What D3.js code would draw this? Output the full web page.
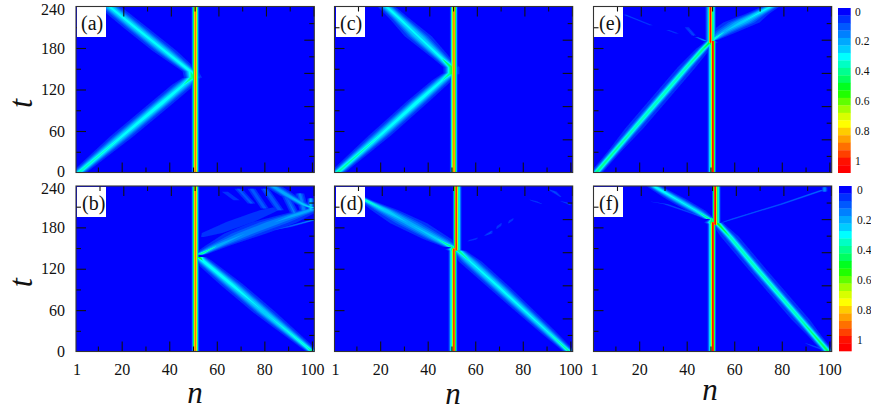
<!DOCTYPE html>
<html><head><meta charset="utf-8">
<script src="https://cdn.jsdelivr.net/npm/d3@7"></script>
<style>html,body{margin:0;background:#fff}svg{display:block}text{font-family:"Liberation Serif",serif;fill:#111}</style>
</head><body><svg id="c" width="871" height="415"></svg>
<script>
// Tick values
const nLabels = [1,20,40,60,80,100];
const nMajor = [20,40,60,80,100];
const nMinor = [10,30,50,70,90];
const tLabels = [0,60,120,180,240];
const tMajor = [60,120,180];
const tMinor = [30,90,150,210];
const tRightMajor = [48,96,144,192];
const tRightMinor = [24,72,120,168,216];
const legendLevels = [0,.05,.1,.15,.2,.25,.3,.35,.4,.45,.5,.55,.6,.65,.7,.75,.8,.85,.9,.95,1,1.05];
const legendLabels = [0,.2,.4,.6,.8,1];
const heatColors = ["#0000ff","#0030ff","#0058ff","#0080ff","#00a8ff","#00ccff","#00ffff","#00ffc4","#00ff90","#00ff60","#00ff20","#20ff00","#60ff00","#a0ff00","#d8ff00","#ffff00","#ffcc00","#ffa000","#ff7000","#ff4000","#ff1000","#ff0000"];

// Each streak: knots of [site n, time t, peak amplitude, spread in sites]
const panelA = [
  [[51,0,.92,.62],[51,240,.92,.62]],
  [[2,0,.36,1.4],[20,52,.29,2.2],[36,98,.31,2.2],[46,127,.29,2.2],[49.5,137,.4,1.6]],
  [[50,137,.42,1.6],[49,146,.32,1.5],[38,176,.29,2.3],[26,209,.29,2.3],[12,248,.29,2.1]]
];
const panelB = [
  [[51,0,.92,.62],[51,240,.92,.62]],
  [[100,0,.4,1.0],[98,6,.33,1.3],[80,57,.27,2.2],[66,98,.3,2.2],[54,132,.32,1.7],[52.5,137,.5,1.2]],
  [[53,141,.42,1.2],[60,153,.22,2.4],[72,171,.16,4.6],[84,187,.16,5],[93,198,.2,3.2],[101,207,.22,2.0]],
  [[54,166,.03,1],[58,172,.07,3],[70,188,.07,4],[82,205,.06,3],[84,209,.03,1]],
  [[83.5,240,.2,1.8],[90,226,.22,1.6],[97,212,.25,1.3],[100.5,208,.3,1]],
  [[83.7,176,.03,.5],[90,181,.12,1.0],[101,191,.18,.8]],
  [[63.4,231.6,.07,.9],[68.3,219.5,.07,.9]],
  [[69,236,.09,1.0],[74.6,214.7,.09,1.0]],
  [[74.6,236,.1,1.0],[80.2,207.5,.1,1.0]],
  [[80.2,236,.11,1.0],[86.5,205,.11,1.0]],
  [[89.3,224,.12,1.0],[93.5,195,.14,1.0]],
  [[94.9,229,.14,1.0],[97,200,.16,1.0]],
  [[99.5,222,.2,.7],[99.5,205,.26,.7]]
];
const panelC = [
  [[51,0,.92,.62],[51,240,.92,.62]],
  [[2,0,.38,1.4],[20,54,.29,2.1],[36,103,.31,2.1],[46,133,.29,1.9],[49.5,143,.4,1.4]],
  [[50,142,.45,1.4],[50,152,.45,1.4],[46,165,.3,1.7],[36,197,.28,2.6],[28,223,.29,1.9],[21,245,.3,1.6]]
];
const panelD = [
  [[50,0,.33,.55],[50,149,.33,.55]],
  [[51,0,1,.55],[51,149,1,.55]],
  [[52,147,1,.55],[52,240,1,.55]],
  [[53,147,.36,.55],[53,240,.36,.55]],
  [[50.5,144,.03,.8],[50.5,148,.42,1.3],[50.5,153,.03,.8]],
  [[99.5,0,.38,1.1],[90,30,.28,1.6],[70,93,.29,2.1],[58,130,.28,2.2],[53,146,.4,1.3]],
  [[50,152,.4,1.5],[44,163,.24,2.8],[32,186,.2,3.8],[22,205,.27,2.6],[14,219,.36,1.2],[8,230,.3,1]],
  [[57,160,.03,.5],[59,162,.07,.9],[61,165,.03,.5]],
  [[64,168,.03,.5],[66,171,.08,.8],[67,175,.03,.5]],
  [[69,178,.03,.4],[70,182,.07,.6],[71,186,.03,.4]],
  [[74,186,.03,.4],[75,190,.06,.6],[76,193,.03,.4]],
  [[83,220,.03,.5],[85,218,.07,.7],[88,214,.03,.5]],
  [[91,235,.03,.5],[93,232,.08,.8],[96,224,.03,.5]],
  [[96,218,.03,.5],[99,215,.08,.7],[100,212,.03,.5]]
];
const panelE = [
  [[50,0,.33,.55],[50,190,.33,.55]],
  [[51,0,1.08,.5],[51,190,1.08,.5]],
  [[50,188,1.08,.5],[50,240,1.08,.5]],
  [[51,188,.42,.55],[51,240,.42,.55]],
  [[49,188,.2,.55],[49,240,.2,.55]],
  [[50,184,.03,.8],[50,188,.45,1.3],[50,194,.03,.8]],
  [[2,0,.15,1.0],[18,64,.15,2.0],[30,112,.15,2.0],[40,152,.15,2.0],[47,179,.15,1.6],[50,189,.2,1]],
  [[2,0,.42,1.1],[18,64,.36,1.25],[30,112,.36,1.35],[40,152,.36,1.25],[47,179,.42,1.1],[50,189,.5,1]],
  [[51,192,.35,1.0],[56,204,.2,2.8],[63,217,.24,3.6],[70,230,.28,2.2],[76,241,.3,1.6]],
  [[14,228,.08,.5],[25,213,.07,.5]],
  [[32,206,.07,.5],[36,201,.07,.5]],
  [[40,210,.07,.6],[43,198,.08,.6]],
  [[44,196,.08,.5],[48,190,.18,.6]]
];
const panelF = [
  [[50,0,.33,.55],[50,186,.33,.55]],
  [[51,0,1.08,.5],[51,187,1.08,.5]],
  [[52,184,1.08,.5],[52,240,1.08,.5]],
  [[53,184,.42,.55],[53,240,.42,.55]],
  [[50.5,182,.03,.8],[50.5,187,.45,1.3],[50.5,194,.03,.8]],
  [[99.5,0,.15,1.0],[88,46,.15,2.0],[70,118,.15,2.0],[58,167,.15,2.0],[53,186,.2,1.2]],
  [[99.5,0,.45,1.1],[88,46,.36,1.25],[70,118,.36,1.35],[58,167,.36,1.25],[53,186,.5,1.0]],
  [[49.5,192,.42,1.0],[44,204,.28,1.8],[36,220,.28,1.9],[28,236,.32,1.5],[25,243,.3,1.4]],
  [[54,186,.04,.5],[60,193,.1,.7],[80,214,.1,.7],[97,234,.13,.7]],
  [[25,217,.03,.5],[31,214,.08,.7],[42,201,.08,.7],[49,192,.16,.7]],
  [[90,12,.03,.5],[94,7,.08,.7],[98,2,.1,.7]],
  [[98,238,.17,.6],[98,232,.17,.6]]
];

const panelNames = ["(a)","(b)","(c)","(d)","(e)","(f)"];
const panelTracks = [panelA,panelB,panelC,panelD,panelE,panelF];

const columns = [{l:76,r:314.3},{l:334.5,r:572.7},{l:593.5,r:831.7}];
const rows = [{t:6.5,b:172.5},{t:186,b:351.5}];
const boxes = [[77,7,29,30,81,30],[77,187,29,30,82,210],[336,7,29,30,340,30],[336,187,29,30,340,210],[594,7,29,30,599,30],[594,187,29,30,599,210]];

const svg = d3.select("#c");
const defs = svg.append("defs");
defs.append("filter").attr("id","soft").attr("x","-5%").attr("y","-5%").attr("width","110%").attr("height","110%")
  .append("feGaussianBlur").attr("stdDeviation",0.45);

const color = d3.scaleOrdinal(legendLevels,heatColors);
const spreadAt = (peak,sigma,level)=> peak<=level ? 0 : sigma*Math.sqrt(2*Math.log(peak/level));

panelNames.forEach((name,i)=>{
  const col = columns[Math.floor(i/2)], row = rows[i%2];
  const bottomRow = i%2===1, leftCol = i<2;
  const x = d3.scaleLinear().domain([1,101]).range([col.l+.5,col.r]);
  const xTop = x.copy().range([col.l+2.1,col.r+1.6]);
  const y = d3.scaleLinear().domain([0,240]).range([row.b,row.t]);
  const g = svg.append("g");
  const clipId = "clip"+i;
  defs.append("clipPath").attr("id",clipId).append("rect")
    .attr("x",col.l).attr("y",row.t).attr("width",col.r-col.l).attr("height",row.b-row.t);
  const clip = g.append("g").attr("clip-path",`url(#${clipId})`);
  clip.append("rect").attr("x",col.l).attr("y",row.t).attr("width",col.r-col.l).attr("height",row.b-row.t).attr("fill",heatColors[0]);
  const heat = clip.append("g").attr("filter","url(#soft)");
  legendLevels.slice(1).forEach(level=>{
    const edge = level-.025;
    panelTracks[i].forEach(track=>{
      if(!track.some(k=>k[2]>edge)) return;
      const left = track.map(k=>[x(k[0]-spreadAt(k[2],k[3],edge)),y(k[1])]);
      const right = track.map(k=>[x(k[0]+spreadAt(k[2],k[3],edge)),y(k[1])]).reverse();
      heat.append("path").attr("d",d3.line()(left.concat(right))+"Z").attr("fill",color(level));
    });
  });
  const drawBox = ()=>{ const b=boxes[i]; g.append("rect").attr("x",b[0]).attr("y",b[1]).attr("width",b[2]).attr("height",b[3]).attr("fill","#fff"); };
  if(i!==0) drawBox();
  const ticks = (axis,tr)=>{ const a=g.append("g").attr("transform",tr).call(axis); a.select(".domain").remove(); a.selectAll("text").remove(); a.selectAll("line").attr("stroke","#111").attr("stroke-width",1.1); };
  const bt=`translate(0,${row.b})`, tt=`translate(0,${row.t})`, lt=`translate(${col.l},0)`, rt=`translate(${col.r},0)`;
  ticks(d3.axisBottom(x).tickValues(nMajor).tickSize(-10),bt);
  ticks(d3.axisBottom(x).tickValues(nMinor).tickSize(-5),bt);
  ticks(d3.axisTop(xTop).tickValues(nMajor).tickSize(-10),tt);
  ticks(d3.axisTop(xTop).tickValues(nMinor).tickSize(-5),tt);
  ticks(d3.axisLeft(y).tickValues(tMajor).tickSize(-10),lt);
  ticks(d3.axisLeft(y).tickValues(tMinor).tickSize(-5),lt);
  ticks(d3.axisRight(y).tickValues(tRightMajor).tickSize(-10),rt);
  ticks(d3.axisRight(y).tickValues(tRightMinor).tickSize(-5),rt);
  if(i===0) drawBox();
  g.append("rect").attr("x",col.l).attr("y",row.t).attr("width",col.r-col.l).attr("height",row.b-row.t)
    .attr("fill","none").attr("stroke","#333").attr("stroke-width",1.1);
  const b=boxes[i];
  g.append("text").attr("x",b[4]).attr("y",b[5]).attr("font-size",20).text(name);
  if(bottomRow){
    const a=g.append("g").attr("transform",bt).call(d3.axisBottom(x).tickValues(nLabels).tickSize(0).tickPadding(12).tickFormat(d3.format("d")));
    a.select(".domain").remove();
    a.selectAll("text").attr("font-size",16);
  }
  if(leftCol){
    const a=g.append("g").attr("transform",lt).call(d3.axisLeft(y).tickValues(tLabels).tickSize(0).tickPadding(11).tickFormat(d3.format("d")));
    a.select(".domain").remove();
    // nudge the crowded end labels so neighbours between rows do not collide
    a.selectAll("text").attr("font-size",16)
      .attr("transform",d=> d===240 ? `translate(0,${i===0?2.5:2})` : (d===0&&i===0 ? "translate(0,-1.5)" : null));
    g.append("text").attr("transform",`translate(32,${(row.t+row.b)/2+14}) rotate(-90)`).attr("text-anchor","middle")
      .attr("font-size",33).attr("font-style","italic").text("t");
  }
  if(bottomRow){
    const lx=[195,453,710][Math.floor(i/2)], ly=[403,404,400][Math.floor(i/2)];
    g.append("text").attr("x",lx).attr("y",ly).attr("text-anchor","middle").attr("font-size",31).attr("font-style","italic").text("n");
  }
});

// Colour bars
[{l:838,w:12.7,t:8,b:172.7,lx:855},{l:839,w:12.7,t:186,b:351,lx:857}].forEach(bar=>{
  const band=d3.scaleBand().domain(legendLevels).range([bar.t,bar.b]);
  const g=svg.append("g");
  g.selectAll("rect").data(legendLevels).join("rect")
    .attr("x",bar.l).attr("y",d=>band(d)).attr("width",bar.w).attr("height",band.bandwidth()+.3).attr("fill",d=>color(d));
  const pos=d3.scaleLinear().domain([0,1]).range([band(0)+band.bandwidth()/2,band(1)+band.bandwidth()/2]);
  g.selectAll("text").data(legendLabels).join("text").attr("x",bar.lx).attr("y",d=>pos(d)+3.8)
    .attr("font-size",11.5).text(d=>d);
});
</script></body></html>
